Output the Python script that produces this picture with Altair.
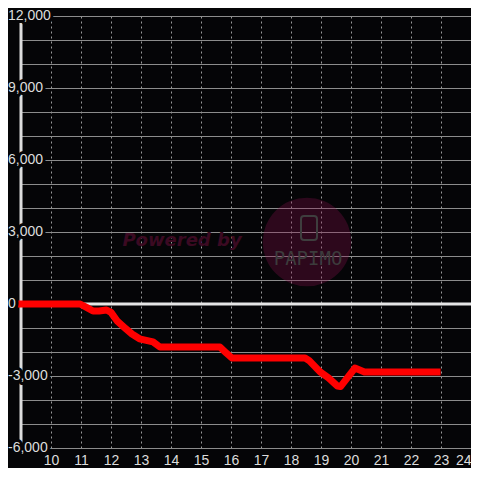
import altair as alt
import pandas as pd

# ---- data ----
hours = [9.0, 10.97, 11.2, 11.4, 11.6, 11.85, 12.0, 12.2, 12.45, 12.7, 12.95,
         13.4, 13.63, 15.63, 15.85, 16.03, 18.47, 18.6, 18.97, 19.25, 19.55,
         19.65, 20.13, 20.45, 22.87]
balance = [0, 0, -150, -290, -290, -250, -350, -700, -980, -1250, -1450,
           -1580, -1790, -1790, -2050, -2250, -2250, -2350, -2830, -3080, -3420,
           -3440, -2670, -2830, -2830]
x_ticks = list(range(10, 25))
y_grid = list(range(-6000, 12001, 1000))
y_labels = [-6000, -3000, 0, 3000, 6000, 9000, 12000]

BG = "#050507"
LABEL = "#dddddd"
FONT = "Liberation Sans"

line_df = pd.DataFrame({"hour": hours, "balance": balance})
lab_df = pd.DataFrame({"balance": y_labels, "text": [f"{v:,}" for v in y_labels]})

xscale = alt.Scale(domain=[9, 24], nice=False, zero=False)
yscale = alt.Scale(domain=[-6000, 12000], nice=False, zero=False)

x_axis = alt.Axis(values=x_ticks, grid=True, gridDash=[2, 3],
                  gridColor="#9a9a9a", gridWidth=1, domain=False,
                  ticks=False, labelColor=LABEL, labelFontSize=14,
                  labelFont=FONT, labelPadding=5, labelFlush=True,
                  labelOverlap=False)
y_axis = alt.Axis(values=y_grid, grid=True, gridColor="#8c8c8c",
                  gridWidth=1, domain=False, ticks=False, labels=False)


def xenc(field):
    return alt.X(field, scale=xscale, title=None, axis=x_axis)


def yenc(field):
    return alt.Y(field, scale=yscale, title=None, axis=y_axis)


line = alt.Chart(line_df).mark_line(
    color="#ff0000", strokeWidth=7, strokeCap="square", strokeJoin="round"
).encode(x=xenc("hour:Q"), y=yenc("balance:Q"))

zero_rule = alt.Chart(pd.DataFrame({"balance": [0]})).mark_rule(
    color="#e6e6e6", strokeWidth=3
).encode(y=yenc("balance:Q"))

axis_line = alt.Chart(pd.DataFrame({"hour": [9]})).mark_rule(
    color="#dddddd", strokeWidth=3
).encode(x=xenc("hour:Q"))

label_halo = alt.Chart(lab_df).mark_text(
    align="left", baseline="middle", fontSize=14, font=FONT,
    fill=BG, stroke=BG, strokeWidth=6, strokeJoin="round"
).encode(x=alt.value(-13), y=yenc("balance:Q"), text="text:N")

label_text = alt.Chart(lab_df).mark_text(
    align="left", baseline="middle", fontSize=14, font=FONT, color=LABEL
).encode(x=alt.value(-13), y=yenc("balance:Q"), text="text:N")

wm_df = pd.DataFrame({"powered": ["Powered by"], "brand": ["PAPIMO"]})

wm_circle = alt.Chart(wm_df).mark_circle(
    size=7854, color="#8a1050", opacity=0.3
).encode(x=alt.value(286), y=alt.value(226))

wm_powered = alt.Chart(wm_df).mark_text(
    fontSize=18, fontWeight="bold", fontStyle="italic", font="DejaVu Sans",
    color="#3b0a22", align="center", baseline="middle"
).encode(x=alt.value(161), y=alt.value(225), text="powered:N")

wm_brand = alt.Chart(wm_df).mark_text(
    fontSize=19, font="DejaVu Sans Mono", color="#3c3c3c",
    align="center", baseline="middle"
).encode(x=alt.value(287), y=alt.value(243), text="brand:N")

wm_phone = alt.Chart(wm_df).mark_rect(
    fill=BG, fillOpacity=0, stroke="#3e3e3e", strokeWidth=2, cornerRadius=3
).encode(x=alt.value(280), x2=alt.value(296), y=alt.value(200), y2=alt.value(224))

chart = alt.layer(
    wm_circle, wm_powered, wm_brand, wm_phone,
    zero_rule, axis_line, line, label_halo, label_text
).properties(
    width=450, height=432,
    background=BG,
    padding={"left": 13, "top": 8, "right": 0, "bottom": 20},
    autosize=alt.AutoSizeParams(type="none"),
).configure_view(stroke=None).configure_axis(labelOverlap=False)

chart.save("out.html", embed_options={"renderer": "svg", "actions": False})
